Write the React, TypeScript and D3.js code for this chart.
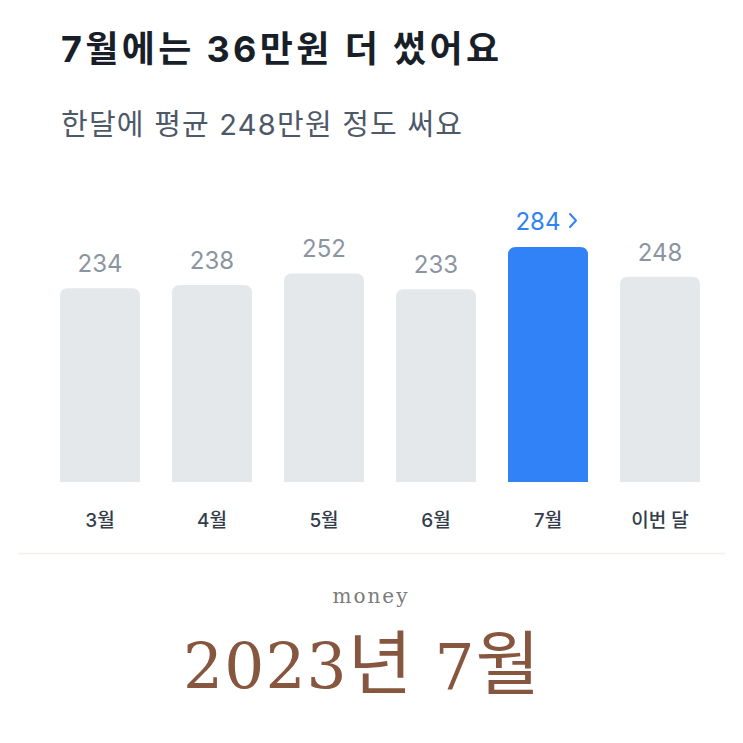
import React from "react";
import * as d3 from "d3";

const months = ["3월", "4월", "5월", "6월", "7월", "이번 달"];
const values = [234, 238, 252, 233, 284, 248];
const highlightIndex = 4;
const titleText = "7월에는 36만원 더 썼어요";
const subtitleText = "한달에 평균 248만원 정도 써요";
const captionSmall = "money";
const captionYear = "2023";
const captionYearUnit = "년";
const captionMonth = " 7";
const captionMonthUnit = "월";

const W = 743;
const H = 743;

export default function App() {
  const x = d3.scaleBand<string>().domain(months).range([44, 716]).paddingInner(0.2857).paddingOuter(0.143);
  const y = d3.scaleLinear().domain([0, 284]).range([482, 247]);
  const font = "Inter, 'Noto Sans CJK KR', 'Noto Sans', sans-serif";
  const serif = "'DejaVu Serif', 'Noto Sans CJK KR', serif";
  const cjk = "'Noto Sans CJK KR', sans-serif";
  return (
    <svg width={W} height={H} style={{ position: "absolute", left: 0, top: 0, background: "#fff" }}>
      <rect width={W} height={H} fill="#fff" />
      <text x={61} y={62} fontFamily={font} fontWeight={700} fontSize={36} fill="#191f28" textLength={438} lengthAdjust="spacing">{titleText}</text>
      <text x={61} y={135} fontFamily={font} fontWeight={400} fontSize={29} fill="#4e5968" textLength={401} lengthAdjust="spacing">{subtitleText}</text>
      {months.map((m, i) => {
        const bx = x(m)!;
        const bw = x.bandwidth();
        const cx = bx + bw / 2;
        const top = y(values[i]);
        const hi = i === highlightIndex;
        return (
          <g key={m}>
            <path
              d={`M${bx},${y(0)} L${bx},${top + 8} Q${bx},${top} ${bx + 8},${top} L${bx + bw - 8},${top} Q${bx + bw},${top} ${bx + bw},${top + 8} L${bx + bw},${y(0)} Z`}
              fill={hi ? "#3182f6" : "#e5e8eb"}
            />
            {hi ? (
              <g>
                <text x={cx - 10} y={top - 17} textAnchor="middle" fontFamily={font} fontSize={24} fill="#3182f6">{values[i]}</text>
                <path d={`M${cx + 22},${top - 33} L${cx + 28},${top - 26.5} L${cx + 22},${top - 20}`} fill="none" stroke="#3182f6" strokeWidth={2} strokeLinecap="round" strokeLinejoin="round" />
              </g>
            ) : (
              <text x={cx} y={top - 16} textAnchor="middle" fontFamily={font} fontSize={24} fill="#8b95a1">{values[i]}</text>
            )}
            <text x={cx} y={527} textAnchor="middle" fontFamily={font} fontWeight={500} fontSize={19} fill="#333d4b">{m}</text>
          </g>
        );
      })}
      <line x1={18} x2={725} y1={553.5} y2={553.5} stroke="#f3efeb" strokeWidth={1.5} />
      <text x={371} y={603} textAnchor="middle" fontFamily={serif} fontSize={20} letterSpacing={2} fill="#7b7b7b">{captionSmall}</text>
      <text x={183} y={689} fontFamily={serif} fontSize={63} fill="#87563f" textLength={357} lengthAdjust="spacing">
        <tspan>{captionYear}</tspan>
        <tspan fontFamily={cjk} fontSize={70} fontWeight={400}>{captionYearUnit}</tspan>
        <tspan>{captionMonth}</tspan>
        <tspan fontFamily={cjk} fontSize={70} fontWeight={400}>{captionMonthUnit}</tspan>
      </text>
    </svg>
  );
}
